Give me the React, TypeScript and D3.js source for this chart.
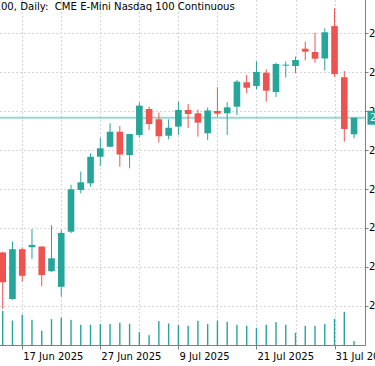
import * as d3 from 'd3'

const title = 'NQ100, Daily:  CME E-Mini Nasdaq 100 Continuous'

const dates = [
	'2025-06-13', '2025-06-16', '2025-06-17', '2025-06-18', '2025-06-19', '2025-06-20',
	'2025-06-23', '2025-06-24', '2025-06-25', '2025-06-26', '2025-06-27', '2025-06-30',
	'2025-07-01', '2025-07-02', '2025-07-03', '2025-07-04', '2025-07-07', '2025-07-08',
	'2025-07-09', '2025-07-10', '2025-07-11', '2025-07-14', '2025-07-15', '2025-07-16',
	'2025-07-17', '2025-07-18', '2025-07-21', '2025-07-22', '2025-07-23', '2025-07-24',
	'2025-07-25', '2025-07-28', '2025-07-29', '2025-07-30', '2025-07-31', '2025-08-01',
	'2025-08-04',
]

const opens = [
	21910, 21550, 21935, 21950, 21955, 21765, 21645, 22070, 22392, 22443, 22648, 22725,
	22841, 22661, 22816, 23016, 22937, 22810, 22880, 23009, 22983, 22829, 23001, 22983,
	23034, 23222, 23194, 23296, 23147, 23353, 23348, 23481, 23456, 23406, 23656, 23261,
	22821,
]
const highs = [
	21915, 21995, 21950, 22090, 21960, 22120, 22085, 22432, 22533, 22674, 22793, 22906,
	22885, 22826, 23068, 23034, 22989, 22937, 23073, 23055, 23012, 23028, 23184, 23070,
	23240, 23278, 23384, 23322, 23373, 23383, 23420, 23535, 23605, 23639, 23793, 23309,
	22950,
]
const lows = [
	21475, 21545, 21685, 21860, 21650, 21760, 21570, 22058, 22366, 22417, 22577, 22722,
	22571, 22559, 22798, 22854, 22756, 22782, 22816, 22870, 22803, 22777, 22958, 22816,
	22970, 23137, 23167, 23073, 23109, 23259, 23292, 23392, 23373, 23313, 23265, 22764,
	22790,
]
const closes = [
	21680, 21935, 21730, 21968, 21735, 21865, 22060, 22397, 22451, 22648, 22713, 22841,
	22665, 22823, 23042, 22900, 22806, 22872, 23009, 22978, 22911, 23005, 22980, 23029,
	23227, 23180, 23302, 23157, 23363, 23358, 23394, 23458, 23404, 23608, 23286, 22862,
	22949,
]
const volumes = [
	694000, 500000, 614000, 514000, 294000, 528000, 554000, 514000, 414000, 414000, 428000,
	428000, 454000, 434000, 268000, 208000, 488000, 440000, 408000, 394000, 494000, 428000,
	500000, 474000, 414000, 394000, 354000, 414000, 468000, 414000, 254000, 394000, 394000,
	428000, 534000, 674000, 88000,
]

const priceTicks = [23600, 23300, 23000, 22700, 22400, 22100, 21800, 21500]
const gridDates = [
	'2025-06-17', '2025-06-23', '2025-06-27', '2025-07-03', '2025-07-09',
	'2025-07-15', '2025-07-21', '2025-07-25', '2025-07-31',
]
const labelDates = ['2025-06-17', '2025-06-27', '2025-07-09', '2025-07-21', '2025-07-31']

const W = 375
const H = 366
const axisX = 365.5
const axisY = 345.5
const font = '"DejaVu Sans", Verdana, sans-serif'
const up = '#26a69a'
const down = '#ef5350'

const parse = d3.timeParse('%Y-%m-%d')
const fmt = d3.timeFormat('%-d %b %Y')

export default function App() {
	const x = d3.scalePoint<string>().domain(dates).range([2.7, 354.06])
	const y = d3.scaleLinear().domain([21500, 23600]).range([305.6, 33.3])
	const yVol = d3.scaleLinear().domain([0, 700000]).range([axisY, axisY - 35])
	const bodyW = 6.6
	const last = closes[closes.length - 1]

	return (
		<svg
			width={W}
			height={H}
			style={{ position: 'fixed', left: 0, top: 0, background: '#fff' }}
			fontFamily={font}
		>
			{/* grid */}
			<g stroke='#d6d6d6' strokeDasharray='2,2' strokeWidth={1}>
				{priceTicks.map((t) => (
					<line key={t} x1={0} x2={axisX} y1={Math.round(y(t)) + 0.5} y2={Math.round(y(t)) + 0.5} />
				))}
				{gridDates.map((d) => (
					<line key={d} x1={Math.round(x(d)!) + 0.5} x2={Math.round(x(d)!) + 0.5} y1={0} y2={axisY} />
				))}
			</g>

			{/* volume */}
			<g fill={up}>
				{dates.map((d, i) => (
					<rect key={d} x={x(d)! - 0.7} width={1.4} y={yVol(volumes[i])} height={axisY - yVol(volumes[i])} />
				))}
			</g>

			{/* current price line */}
			<line x1={0} x2={axisX} y1={y(last)} y2={y(last)} stroke={up} strokeOpacity={0.45} strokeWidth={2} />

			{/* candles */}
			{dates.map((d, i) => {
				const cx = x(d)!
				const o = opens[i]
				const c = closes[i]
				const col = c >= o ? up : down
				const top = y(Math.max(o, c))
				const bh = Math.max(1, y(Math.min(o, c)) - top)
				return (
					<g key={d}>
						<line x1={cx} x2={cx} y1={y(highs[i])} y2={y(lows[i])} stroke={col} strokeWidth={1} />
						<rect x={cx - bodyW / 2} y={top} width={bodyW} height={bh} fill={col} />
					</g>
				)
			})}

			{/* title */}
			<text x={-21} y={10} fontSize={10.1} fill='#000' style={{ whiteSpace: 'pre' }}>
				{title}
			</text>

			{/* axes */}
			<g stroke='#808080' strokeWidth={1}>
				<line x1={axisX} x2={axisX} y1={0} y2={axisY} />
				<line x1={0} x2={axisX} y1={axisY} y2={axisY} />
				{priceTicks.map((t) => (
					<line key={t} x1={axisX} x2={axisX + 3} y1={Math.round(y(t)) + 0.5} y2={Math.round(y(t)) + 0.5} />
				))}
				{labelDates.map((d) => (
					<line key={d} x1={Math.round(x(d)!) + 0.5} x2={Math.round(x(d)!) + 0.5} y1={axisY} y2={axisY + 4} />
				))}
			</g>
			<g fontSize={10} fill='#000'>
				{priceTicks.map((t) => (
					<text key={t} x={369} y={y(t) + 3.6}>
						{t.toFixed(2)}
					</text>
				))}
				{labelDates.map((d) => (
					<text key={d} x={x(d)! + 1} y={360}>
						{fmt(parse(d)!)}
					</text>
				))}
			</g>

			{/* last price label */}
			<rect x={367.5} y={y(last) - 7} width={60} height={14} fill={up} />
			<text x={370} y={y(last) + 3.6} fontSize={10} fill='#fff'>
				{last.toFixed(2)}
			</text>
		</svg>
	)
}
